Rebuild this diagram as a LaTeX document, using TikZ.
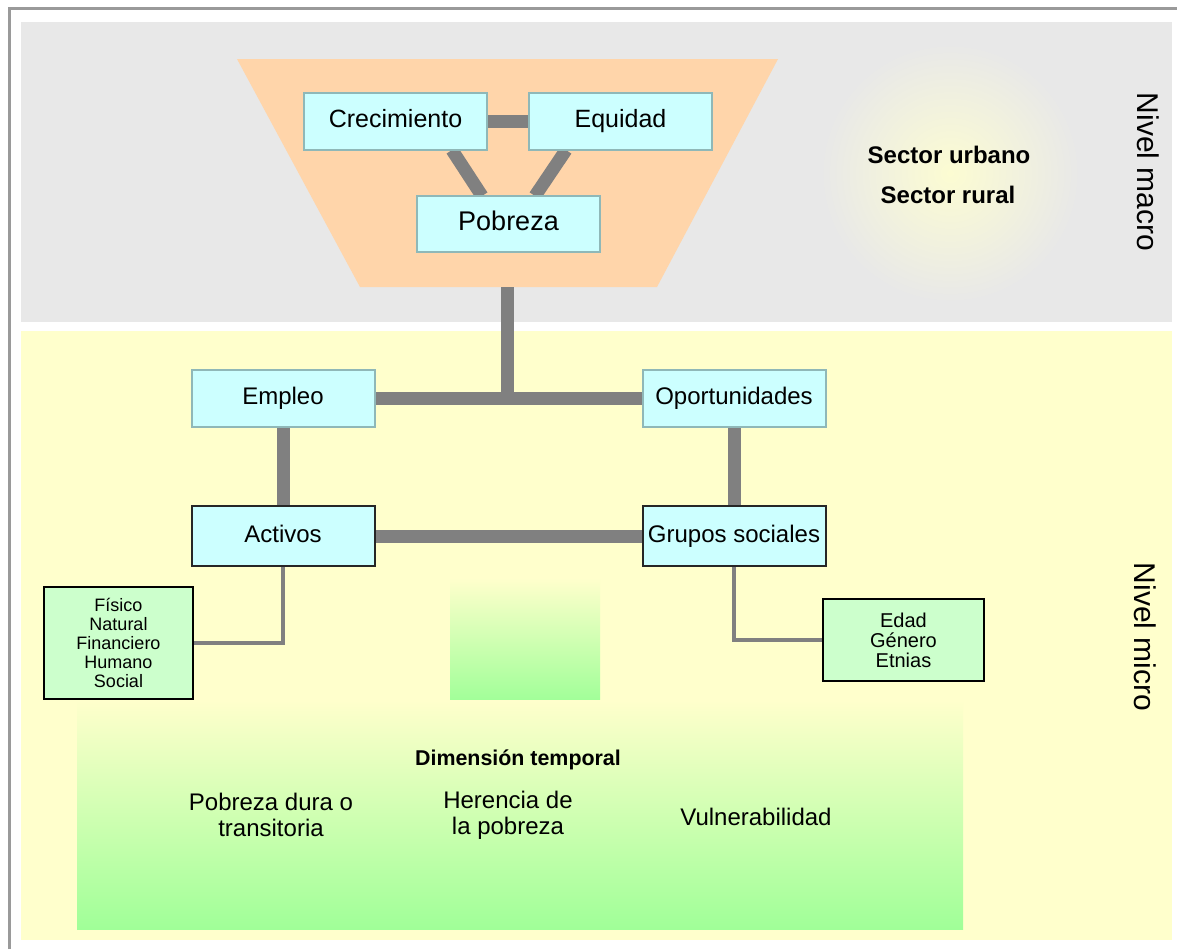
\documentclass[tikz,border=0pt]{standalone}
\usepackage{fontspec}
\setmainfont{Liberation Sans}
\usetikzlibrary{calc}
\definecolor{macrogray}{HTML}{E8E8E8}
\definecolor{microyellow}{HTML}{FFFFCC}
\definecolor{glowyellow}{HTML}{FCFCD2}
\definecolor{peach}{HTML}{FFD5AA}
\definecolor{boxcyan}{HTML}{CCFFFF}
\definecolor{boxedge}{HTML}{8FB8B8}
\definecolor{notegreen}{HTML}{CCFFCC}
\definecolor{deepgreen}{HTML}{A0FF98}
\definecolor{linkgray}{HTML}{808080}
\definecolor{framegray}{HTML}{9A9A9A}
\pgfdeclarelayer{bg}
\pgfdeclarelayer{links}
\pgfsetlayers{bg,links,main}

\begin{document}
\begin{tikzpicture}[x=0.5pt, y=-0.5pt,
        Box/.style={draw=boxedge, line width=1pt, fill=boxcyan, minimum width=91.5pt, minimum height=28.5pt, inner sep=0pt, outer sep=0pt, text height=8.8pt, text depth=2.6pt, font=\fontsize{12}{14}\selectfont},
        DarkBox/.style={Box, draw=black!85},
        Note/.style={draw=black, line width=1.3pt, fill=notegreen, inner sep=0pt, outer sep=0pt, align=center},
        Link/.style={draw=linkgray, line width=6.5pt},
        ThinLink/.style={draw=linkgray, line width=1.6pt},
        Label/.style={align=center, font=\fontsize{12}{13}\selectfont},
        ]
    \useasboundingbox (0,0) rectangle (1177,949);
    \begin{pgfonlayer}{bg}
        % frame and the two levels
        \draw[framegray, line width=1.5pt] (9,949) -- (9,8) -- (1177,8);
        \fill[macrogray] (21,22) rectangle (1172,322);
        \fill[microyellow] (21,331) rectangle (1172,940);
        \shade[inner color=glowyellow, outer color=macrogray] (950,173) circle (130);
        \shade[top color=microyellow, bottom color=deepgreen] (450,578) rectangle (600,702);
        \shade[top color=microyellow, bottom color=deepgreen] (77,700) rectangle (963,929);
        \fill[peach] (237,59) -- (778,59) -- (657,287) -- (360,287) -- cycle;
    \end{pgfonlayer}
    \coordinate (macrobase) at (507,287);

    \node [Box, font=\fontsize{12.5}{14}\selectfont] (crec) at (395.5,121.5) {Crecimiento};
    \node [Box, font=\fontsize{12.5}{14}\selectfont] (equi) at (620.5,121.5) {Equidad};
    \node [Box, minimum height=28pt, font=\fontsize{13.5}{15}\selectfont] (pobr) at (508.5,224) {Pobreza};

    \node [Box] (empl) at (283,398) {Empleo};
    \node [Box] (opor) at (734,398) {Oportunidades};
    \node [DarkBox, minimum height=30pt] (acti) at (283,536) {Activos};
    \node [DarkBox, minimum height=30pt] (grup) at (734,536) {Grupos sociales};

    \node [Note, minimum width=74.5pt, minimum height=56pt, font=\fontsize{9}{9.6}\selectfont] (fisi) at (118.5,643) {Físico\\Natural\\Financiero\\Humano\\Social};
    \node [Note, minimum width=80.5pt, minimum height=41pt, font=\fontsize{10}{10}\selectfont] (edad) at (903.5,640) {Edad\\Género\\Etnias};

    \node [Label, font=\fontsize{12}{14}\selectfont\bfseries] (surb) at (949,155) {Sector urbano};
    \node [Label, font=\fontsize{12}{14}\selectfont\bfseries] (srur) at (948,195) {Sector rural};
    \node [Label, rotate=-90, font=\fontsize{15}{16}\selectfont] (macro) at (1148,172) {Nivel macro};
    \node [Label, rotate=-90, font=\fontsize{15}{16}\selectfont] (micro) at (1145,637) {Nivel micro};

    \node [Label, font=\fontsize{10.7}{12}\selectfont\bfseries] (dime) at (518,760) {Dimensión temporal};
    \node [Label] (dura) at (271,815) {Pobreza dura o\\transitoria};
    \node [Label] (here) at (508,815) {Herencia de\\la pobreza};
    \node [Label] (vuln) at (756,817) {Vulnerabilidad};

    \begin{pgfonlayer}{links}
        \draw[Link] (crec) -- (equi);
        \draw[Link] ([xshift=-17.5pt]crec.south east) -- ([xshift=32.5pt]pobr.north west);
        \draw[Link] ([xshift=18.5pt]equi.south west) -- ([xshift=-32.5pt]pobr.north east);
        \draw[Link] (macrobase) -- (macrobase |- empl.east);
        \draw[Link] (empl) -- (opor);
        \draw[Link] (empl) -- (acti);
        \draw[Link] (opor) -- (grup);
        \draw[Link] (acti) -- (grup);
        \draw[ThinLink] (acti.south) |- (fisi.east);
        \draw[ThinLink] (grup.south) |- (edad.west);
    \end{pgfonlayer}
\end{tikzpicture}
\end{document}
